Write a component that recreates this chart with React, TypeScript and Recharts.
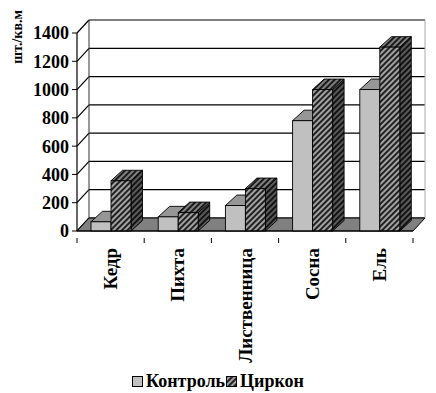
import React from 'react';
import { BarChart, Bar, XAxis, YAxis, CartesianGrid, ReferenceArea, Legend } from 'recharts';

const categories = ['Кедр', 'Пихта', 'Лиственница', 'Сосна', 'Ель'];
const controlValues = [65, 100, 180, 780, 1000];
const zirconValues = [355, 130, 300, 1000, 1300];
const yTicks = [0, 200, 400, 600, 800, 1000, 1200, 1400];
const seriesNames = ['Контроль', 'Циркон'];
const yTitle = 'шт./кв.м';

const data = categories.map((name, i) => ({
  name,
  control: controlValues[i],
  zircon: zirconValues[i],
}));

const FONT = 'Liberation Serif, serif';
// wall depth offsets
const WDX = 12;
const WDY = 13;
// bar depth offsets
const BDX = 11.5;
const BDY = 10.5;

const HatchDefs = ({ prefix }: { prefix: string }) => (
  <defs>
    {[
      ['front', '#a2a2a2'],
      ['top', '#808080'],
      ['side', '#5a5a5a'],
    ].map(([k, c]) => (
      <pattern
        key={k}
        id={`${prefix}-${k}`}
        patternUnits="userSpaceOnUse"
        width="4"
        height="4"
        patternTransform="rotate(45)"
      >
        <rect width="4" height="4" fill={c} />
        <line x1="1" y1="0" x2="1" y2="4" stroke="#000" strokeWidth="1.6" />
      </pattern>
    ))}
  </defs>
);

const Box3D = (props: any) => {
  const { x, y, width, height, kind } = props;
  if (x == null || y == null || !isFinite(height)) return null;
  const w = width;
  const h = height;
  const front = kind === 'control' ? '#c0c0c0' : 'url(#hz-front)';
  const top = kind === 'control' ? '#969696' : 'url(#hz-top)';
  const side = kind === 'control' ? '#7a7a7a' : 'url(#hz-side)';
  const sw = 0.9;
  return (
    <g>
      <polygon
        points={`${x + w},${y} ${x + w + BDX},${y - BDY} ${x + w + BDX},${y + h - BDY} ${x + w},${y + h}`}
        fill={side}
        stroke="#000"
        strokeWidth={sw}
      />
      <polygon
        points={`${x},${y} ${x + BDX},${y - BDY} ${x + w + BDX},${y - BDY} ${x + w},${y}`}
        fill={top}
        stroke="#000"
        strokeWidth={sw}
      />
      <rect x={x} y={y} width={w} height={h} fill={front} stroke="#000" strokeWidth={sw} />
    </g>
  );
};

const WallsShape = (props: any) => {
  const { x, y, width, height } = props;
  if (x == null) return null;
  const by = y + height;
  return (
    <g>
      <HatchDefs prefix="hz" />
      <line x1={x + WDX} y1={y - WDY} x2={x + WDX} y2={by - WDY} stroke="#333" strokeWidth={1} />
      <line x1={x + width + WDX} y1={y - WDY} x2={x + width + WDX} y2={by - WDY} stroke="#aaa" strokeWidth={1} />
      <polygon
        points={`${x},${by} ${x + width},${by} ${x + width + WDX},${by - WDY} ${x + WDX},${by - WDY}`}
        fill="#808080"
        stroke="#000"
        strokeWidth={1}
      />
    </g>
  );
};

const gridLine = (p: any) => {
  const { x1, x2, y1 } = p;
  return (
    <g key={p.key ?? `g-${y1}`}>
      <line x1={x1 + WDX} y1={y1 - WDY} x2={x2 + WDX} y2={y1 - WDY} stroke="#000" strokeWidth={1.2} />
      <line x1={x1} y1={y1} x2={x1 + WDX} y2={y1 - WDY} stroke="#000" strokeWidth={1.2} />
    </g>
  );
};

const XTick = (props: any) => {
  const { x, y, payload } = props;
  const half = payload && payload.offset ? payload.offset : 0;
  const isLast = payload && payload.index === categories.length - 1;
  return (
    <g>
      <line x1={x - half} y1={y - 1} x2={x - half} y2={y + 4} stroke="#000" strokeWidth={1} />
      {isLast && <line x1={x + half} y1={y - 1} x2={x + half} y2={y + 4} stroke="#000" strokeWidth={1} />}
      <text
        x={x}
        y={y + 9}
        transform={`rotate(-90, ${x}, ${y + 9})`}
        textAnchor="end"
        dominantBaseline="central"
        fontFamily={FONT}
        fontWeight="bold"
        fontSize={19}
        fill="#000"
      >
        {payload.value}
      </text>
    </g>
  );
};

const YTitle = (props: any) => {
  const vb = props.viewBox || { x: 0, y: 0 };
  const tx = vb.x + 17;
  const ty = vb.y - 23;
  return (
    <text
      x={tx}
      y={ty}
      transform={`rotate(-90, ${tx}, ${ty})`}
      textAnchor="end"
      dominantBaseline="central"
      fontFamily={FONT}
      fontWeight="bold"
      fontSize={14}
      fill="#000"
    >
      {yTitle}
    </text>
  );
};

const LegendContent = () => (
  <div
    style={{
      display: 'flex',
      justifyContent: 'center',
      alignItems: 'center',
      fontFamily: FONT,
      fontWeight: 'bold',
      fontSize: 18,
      color: '#000',
      lineHeight: '20px',
    }}
  >
    <svg width={11} height={11} style={{ marginRight: 3 }}>
      <rect x={0.5} y={0.5} width={10} height={10} fill="#c0c0c0" stroke="#000" strokeWidth={1} />
    </svg>
    <span>{seriesNames[0]}</span>
    <svg width={11} height={11} style={{ marginLeft: 1, marginRight: 3 }}>
      <HatchDefs prefix="lg" />
      <rect x={0.5} y={0.5} width={10} height={10} fill="url(#lg-front)" stroke="#000" strokeWidth={1} />
    </svg>
    <span>{seriesNames[1]}</span>
  </div>
);

export default function App() {
  return (
    <div style={{ position: 'absolute', left: 0, top: 0, width: 436, height: 393, background: '#fff' }}>
      <BarChart
        width={436}
        height={393}
        data={data}
        margin={{ top: 33, right: 23, left: 0, bottom: 0 }}
        barGap={0}
        barSize={20}
      >
        <CartesianGrid vertical={false} horizontal={gridLine} />
        <ReferenceArea y1={0} y2={1400} shape={WallsShape} ifOverflow="visible" />
        <XAxis
          dataKey="name"
          height={162}
          tick={<XTick />}
          tickLine={false}
          axisLine={{ stroke: '#000', strokeWidth: 1.2 }}
          interval={0}
        />
        <YAxis
          width={77}
          domain={[0, 1400]}
          ticks={yTicks}
          tickSize={5}
          tickMargin={3}
          tickLine={{ stroke: '#000' }}
          axisLine={{ stroke: '#000', strokeWidth: 1.2 }}
          tick={{ fontFamily: FONT, fontWeight: 'bold', fontSize: 18, fill: '#000' }}
          label={<YTitle />}
        />
        <Bar dataKey="control" name={seriesNames[0]} isAnimationActive={false} shape={(p: any) => <Box3D {...p} kind="control" />} />
        <Bar dataKey="zircon" name={seriesNames[1]} isAnimationActive={false} shape={(p: any) => <Box3D {...p} kind="zircon" />} />
        <Legend
          layout="horizontal"
          verticalAlign="middle"
          align="center"
          content={<LegendContent />}
          wrapperStyle={{ position: 'absolute', top: 371, left: 0, width: 436 }}
        />
      </BarChart>
    </div>
  );
}
